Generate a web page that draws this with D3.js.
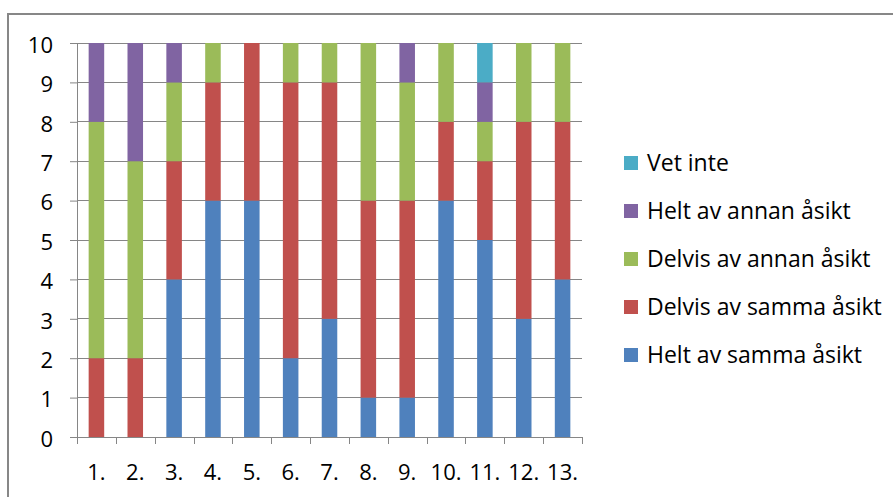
<!DOCTYPE html>
<html>
<head>
<meta charset="utf-8">
<script src="https://d3js.org/d3.v7.min.js"></script>
<style>
  body { margin: 0; background: #fff; }
  text { font-family: "Open Sans", "Noto Sans", sans-serif; fill: #000; }
</style>
</head>
<body>
<script>

// categories on the x axis
var categories = ["1.", "2.", "3.", "4.", "5.", "6.", "7.", "8.", "9.", "10.", "11.", "12.", "13."];

// series values, bottom to top of the stack
var heltSamma   = [0, 0, 4, 6, 6, 2, 3, 1, 1, 6, 5, 3, 4];
var delvisSamma = [2, 2, 3, 3, 4, 7, 6, 5, 5, 2, 2, 5, 4];
var delvisAnnan = [6, 5, 2, 1, 0, 1, 1, 4, 3, 2, 1, 2, 2];
var heltAnnan   = [2, 3, 1, 0, 0, 0, 0, 0, 1, 0, 1, 0, 0];
var vetInte     = [0, 0, 0, 0, 0, 0, 0, 0, 0, 0, 1, 0, 0];

var seriesNames = ["Helt av samma åsikt", "Delvis av samma åsikt", "Delvis av annan åsikt",
                   "Helt av annan åsikt", "Vet inte"];
var seriesColors = ["#4F81BD", "#C0504D", "#9BBB59", "#8064A2", "#4BACC6"];

var yTicks = [0, 1, 2, 3, 4, 5, 6, 7, 8, 9, 10];

// build table for the stack
var seriesValues = [heltSamma, delvisSamma, delvisAnnan, heltAnnan, vetInte];
var table = categories.map(function(c, i) {
  var row = {cat: c};
  seriesNames.forEach(function(s, j) {
    row[s] = seriesValues[j][i];
  });
  return row;
});

var stacked = d3.stack().keys(seriesNames)(table);

var width = 893;
var height = 497;
var plot = {left: 77, right: 582, top: 43, bottom: 437};

var svg = d3.select("body").append("svg")
  .attr("width", width)
  .attr("height", height);

// outer frame
svg.append("rect")
  .attr("x", 8)
  .attr("y", 14)
  .attr("width", 900)
  .attr("height", 600)
  .attr("fill", "none")
  .attr("stroke", "#878787")
  .attr("stroke-width", 2);

var x = d3.scaleBand()
  .domain(categories)
  .range([plot.left, plot.right])
  .paddingInner(0.6)
  .paddingOuter(0.3);

var y = d3.scaleLinear()
  .domain([0, 10])
  .range([plot.bottom, plot.top]);

// gridlines
svg.append("g")
  .selectAll("line")
  .data(yTicks)
  .enter()
  .append("line")
  .attr("x1", plot.left)
  .attr("x2", plot.right)
  .attr("y1", function(d) { return y(d); })
  .attr("y2", function(d) { return y(d); })
  .attr("stroke", "#868686")
  .attr("stroke-width", 1)
  .attr("shape-rendering", "crispEdges");

// bars
svg.append("g")
  .selectAll("g")
  .data(stacked)
  .enter()
  .append("g")
  .attr("fill", function(d, i) { return seriesColors[i]; })
  .selectAll("rect")
  .data(function(d) { return d; })
  .enter()
  .append("rect")
  .attr("x", function(d) { return x(d.data.cat); })
  .attr("y", function(d) { return y(d[1]); })
  .attr("width", x.bandwidth())
  .attr("height", function(d) { return y(d[0]) - y(d[1]); });

// left axis
var yAxis = d3.axisLeft(y)
  .tickValues(yTicks)
  .tickSize(7)
  .tickPadding(17)
  .tickFormat(d3.format("d"));

var gy = svg.append("g")
  .attr("transform", "translate(" + plot.left + ",0)")
  .call(yAxis);

gy.select(".domain").attr("stroke", "#868686").attr("d", "M0.5," + plot.top + "V" + plot.bottom);
gy.selectAll(".tick line").attr("stroke", "#868686");
gy.selectAll(".tick text")
  .style("font-size", "22px")
  .attr("dy", "0.42em");

// bottom axis, ticks sit on the band edges
var gx = svg.append("g")
  .attr("transform", "translate(0," + plot.bottom + ")");

gx.append("line")
  .attr("x1", plot.left)
  .attr("x2", plot.right)
  .attr("y1", 0.5)
  .attr("y2", 0.5)
  .attr("stroke", "#868686");

var edges = d3.range(categories.length + 1).map(function(i) {
  return plot.left + i * x.step();
});

gx.selectAll(".edge")
  .data(edges)
  .enter()
  .append("line")
  .attr("class", "edge")
  .attr("x1", function(d) { return Math.round(d) + 0.5; })
  .attr("x2", function(d) { return Math.round(d) + 0.5; })
  .attr("y1", 0)
  .attr("y2", 7)
  .attr("stroke", "#868686");

gx.selectAll(".lbl")
  .data(categories)
  .enter()
  .append("text")
  .attr("class", "lbl")
  .attr("x", function(d) { return x(d) + x.bandwidth() / 2; })
  .attr("y", 43)
  .attr("text-anchor", "middle")
  .style("font-size", "22px")
  .text(function(d) { return d; });

// legend, reversed order
var legendNames = seriesNames.slice().reverse();
var legendColors = seriesColors.slice().reverse();

var legend = svg.append("g")
  .selectAll("g")
  .data(legendNames)
  .enter()
  .append("g")
  .attr("transform", function(d, i) { return "translate(624," + (163 + i * 48) + ")"; });

legend.append("rect")
  .attr("x", 0)
  .attr("y", -7)
  .attr("width", 14)
  .attr("height", 14)
  .attr("fill", function(d, i) { return legendColors[i]; });

legend.append("text")
  .attr("x", 23)
  .attr("y", 0)
  .attr("dy", "0.36em")
  .style("font-size", "23px")
  .text(function(d) { return d; });

</script>
</body>
</html>
